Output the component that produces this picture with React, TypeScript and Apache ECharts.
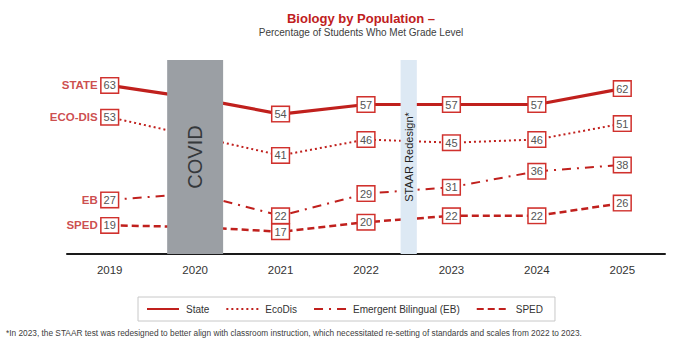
import React, { useEffect, useRef } from "react";
import * as echarts from "echarts";

const years = ["2019", "2020", "2021", "2022", "2023", "2024", "2025"];
const stateVals = [63, 59, 54, 57, 57, 57, 62];
const ecoDisVals = [53, 47, 41, 46, 45, 46, 51];
const ebVals = [27, 29, 22, 29, 31, 36, 38];
const spedVals = [19, 18.5, 17, 20, 22, 22, 26];

const seriesNames = ["State", "EcoDis", "Emergent Bilingual (EB)", "SPED"];
const shortNames = ["STATE", "ECO-DIS", "EB", "SPED"];
const hiddenLabelYear = "2020";

const titleText = "Biology by Population –";
const subtitleText = "Percentage of Students Who Met Grade Level";
const footnote =
  "*In 2023, the STAAR test was redesigned to better align with classroom instruction, which necessitated re-setting of standards and scales from 2022 to 2023.";

const shades = [
  { at: 1, widthFrac: 0.655, color: "#9b9fa4", label: "COVID", textColor: "#35383b", font: "20px 'Liberation Sans'" },
  { at: 3.5, widthFrac: 0.19, color: "#dde9f4", label: "STAAR Redesign*", textColor: "#1f1f1f", font: "11px 'Liberation Sans'" },
];

const RED = "#c0201d";
const Y_MIN = 10;
const Y_MAX = 71;

export default function App() {
  const ref = useRef<HTMLDivElement>(null);
  useEffect(() => {
    if (!ref.current) return;
    const chart = echarts.init(ref.current, null, { renderer: "svg" });
    const allVals = [stateVals, ecoDisVals, ebVals, spedVals];
    const lineStyles: any[] = [
      { width: 3.2, type: "solid" },
      { width: 2, type: [2, 3] },
      { width: 2, type: [9, 6, 2, 6] },
      { width: 2.5, type: [7, 4] },
    ];
    const boxLabel = {
      show: true,
      position: "inside",
      color: "#555",
      fontSize: 11,
      fontFamily: "Liberation Sans",
      backgroundColor: "#fff",
      borderColor: "#d0312d",
      borderWidth: 1.5,
      padding: [2, 2, 1, 2],
    };
    const lineSeries = allVals.map((vals, si) => ({
      type: "line",
      name: seriesNames[si],
      data: vals.map((v, i) =>
        years[i] === hiddenLabelYear
          ? { value: v, label: { show: false } }
          : { value: v, symbol: "circle", symbolSize: 1 }
      ),
      symbol: "none",
      lineStyle: { color: RED, ...lineStyles[si] },
      itemStyle: { color: RED },
      label: boxLabel,
      z: 2,
    }));
    const nameSeries = {
      type: "scatter",
      data: allVals.map((vals, si) => ({ value: [years[0], vals[0]], name: shortNames[si] })),
      symbolSize: 0,
      silent: true,
      label: {
        show: true,
        position: "left",
        distance: 12,
        formatter: (p: any) => p.name,
        color: RED,
        fontWeight: "bold",
        fontSize: 11.5,
        fontFamily: "Liberation Sans",
      },
      z: 4,
    };
    const shadeSeries = {
      type: "custom",
      silent: true,
      data: shades.map((s) => [s.at, Y_MAX]),
      z: 3,
      renderItem: (params: any, api: any) => {
        const s = shades[params.dataIndex];
        const cs = params.coordSys;
        const x0 = api.coord([0, Y_MIN])[0];
        const x1 = api.coord([1, Y_MIN])[0];
        const band = x1 - x0;
        const cx = x0 + api.value(0) * band;
        const w = s.widthFrac * band;
        return {
          type: "group",
          children: [
            { type: "rect", shape: { x: cx - w / 2, y: cs.y, width: w, height: cs.height }, style: { fill: s.color } },
            {
              type: "text",
              x: cx,
              y: cs.y + cs.height / 2,
              rotation: Math.PI / 2,
              style: { text: s.label, fill: s.textColor, font: s.font, align: "center", verticalAlign: "middle" },
            },
          ],
        };
      },
    };
    chart.setOption({
      animation: false,
      grid: { left: 67, right: 14, top: 60, bottom: 94 },
      legend: {
        data: seriesNames,
        left: 138,
        top: 297,
        padding: [7, 12, 7, 8],
        borderColor: "#c8c8c8",
        borderWidth: 1,
        itemWidth: 32,
        itemHeight: 3,
        itemGap: 16,
        itemStyle: { opacity: 0 },
        textStyle: { fontSize: 10, color: "#333", fontFamily: "Liberation Sans", padding: [0, 0, 0, 2] },
      },
      xAxis: {
        type: "category",
        data: years,
        boundaryGap: true,
        axisLine: { lineStyle: { color: "#1a1a1a", width: 2 } },
        axisTick: { show: false },
        axisLabel: { color: "#333", fontSize: 11.5, fontFamily: "Liberation Sans", margin: 10 },
      },
      yAxis: { type: "value", min: Y_MIN, max: Y_MAX, show: false, splitLine: { show: false } },
      graphic: [
        {
          type: "text",
          x: 361,
          y: 18,
          style: { text: titleText, fill: "#c0201d", font: "bold 13px 'Liberation Sans'", align: "center", verticalAlign: "middle" },
        },
        {
          type: "text",
          x: 361,
          y: 32,
          style: { text: subtitleText, fill: "#404040", font: "10px 'Liberation Sans'", align: "center", verticalAlign: "middle" },
        },
        {
          type: "text",
          x: 6,
          y: 333,
          style: { text: footnote, fill: "#404040", font: "8.3px 'Liberation Sans'", align: "left", verticalAlign: "middle" },
        },
      ],
      series: [...lineSeries, shadeSeries, nameSeries],
    });
    return () => chart.dispose();
  }, []);
  return (
    <div
      ref={ref}
      style={{ position: "fixed", left: 0, top: 0, width: 679, height: 348, background: "#fff" }}
    />
  );
}
